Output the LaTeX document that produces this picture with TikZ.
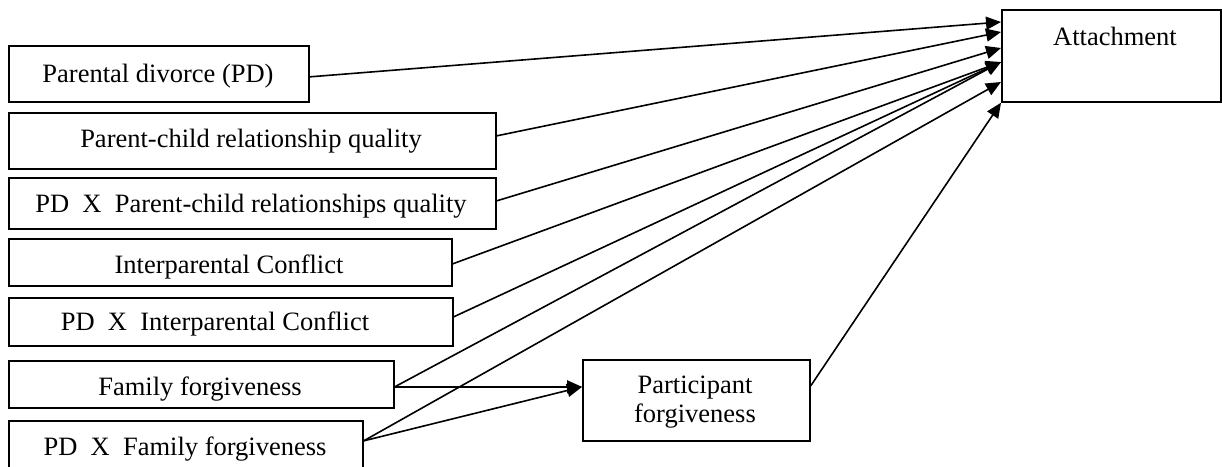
\documentclass[tikz,border=0pt]{standalone}
\usepackage{fontspec}
\setmainfont{Liberation Serif}
\usetikzlibrary{arrows.meta,calc}
\begin{document}
\begin{tikzpicture}[x=1pt,y=-1pt,
  box/.style={draw, line width=1.7pt, inner sep=0pt, anchor=north west},
  lab/.style={anchor=base, inner sep=0pt, font=\fontsize{26.5}{29}\selectfont},
  arr/.style={line width=1.6pt, -{Triangle[length=15pt,width=13pt]}},
  ln/.style={line width=1.6pt}]
\useasboundingbox (0,0) rectangle (1222,466);
% boxes
\node[box, minimum width=300pt, minimum height=56pt] (pd) at (8,45) {};
\node[box, minimum width=487pt, minimum height=56pt] (pcrq) at (8,112) {};
\node[box, minimum width=487pt, minimum height=51pt] (pdpcrq) at (8,177) {};
\node[box, minimum width=443pt, minimum height=47pt] (ic) at (8,238) {};
\node[box, minimum width=444pt, minimum height=48pt] (pdic) at (8,297) {};
\node[box, minimum width=385pt, minimum height=47pt] (ff) at (8,360) {};
\node[box, minimum width=354pt, minimum height=56pt] (pdff) at (8,420) {};
\node[box, minimum width=219pt, minimum height=92pt] (att) at (1001,9) {};
\node[box, minimum width=227pt, minimum height=81pt] (part) at (582,359) {};
% labels
\node[lab] (pdl) at (158,82) {Parental divorce (PD)};
\node[lab] (pcrql) at (251,147) {Parent-child relationship quality};
\node[lab] (pdpcrql) at (251,212) {PD\ \ X\ \ Parent-child relationships quality};
\node[lab] (icl) at (229,273) {Interparental Conflict};
\node[lab] (pdicl) at (215,330) {PD\ \ X\ \ Interparental Conflict};
\node[lab] (ffl) at (200,395) {Family forgiveness};
\node[lab] (pdffl) at (185,455) {PD\ \ X\ \ Family forgiveness};
\node[lab] (attl) at (1115,45) {Attachment};
\node[lab] (partl1) at (695,393) {Participant};
\node[lab] (partl2) at (695,422) {forgiveness};
% arrow tips on Attachment
\coordinate (t1) at ($(att.north west)+(0,13)$);
\coordinate (t2) at ($(att.north west)+(0,23)$);
\coordinate (t3) at ($(att.north west)+(0,39)$);
\coordinate (t4) at ($(att.north west)+(0,53)$);
\coordinate (t5) at ($(att.north west)+(0,73)$);
\coordinate (tp) at ($(part.west)+(0,-13.5)$);
% connectors
\draw[arr] ([yshift=-3pt]pd.east) -- (t1);
\draw[arr] ([yshift=5pt]pcrq.east) -- (t2);
\draw[arr] ([yshift=2.5pt]pdpcrq.east) -- (t3);
\draw[arr] ([yshift=-1.5pt]ic.east) -- (t4);
\draw[arr] ([yshift=5pt]pdic.east) -- (t4);
\draw[arr] ([yshift=-2.5pt]ff.east) -- (t4);
\draw[arr] ([yshift=8pt]pdff.east) -- (t5);
\draw[arr] ([yshift=-2.5pt]ff.east) -- (tp);
\draw[arr] ([yshift=8pt]pdff.east) -- (tp);
\draw[arr] ([yshift=14.5pt]part.east) -- (att.south west);
\end{tikzpicture}
\end{document}
